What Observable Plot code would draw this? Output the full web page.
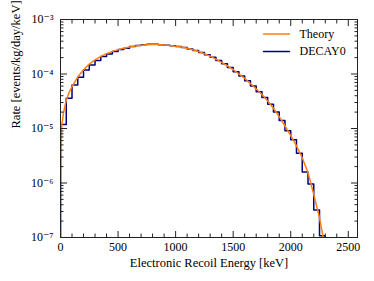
<!DOCTYPE html>
<html><head><meta charset="utf-8">
<script src="https://cdn.jsdelivr.net/npm/d3@7"></script>
<script src="https://cdn.jsdelivr.net/npm/@observablehq/plot@0.6"></script>
<style>
body{margin:0;background:#fff}
svg, svg text{font-family:"Liberation Serif","Times New Roman","DejaVu Serif",serif !important}
</style>
</head><body><div id="chart"></div>
<script>
// Theory curve (energy keV, rate events/kg/day/keV)
const theoryEnergy = [0,3,6,10,25,50,75,100,150,200,250,300,350,400,450,500,550,600,650,700,750,800,850,900,950,1000,1050,1100,1150,1200,1250,1300,1350,1400,1450,1500,1550,1600,1650,1700,1750,1800,1850,1900,1950,2000,2050,2100,2150,2200,2250,2275,2290];
const theoryRate = [1e-8,1e-6,5e-6,1.05e-5,1.9e-5,3.3e-5,4.6e-5,5.9e-5,8.8e-5,1.2e-4,1.52e-4,1.82e-4,2.1e-4,2.36e-4,2.6e-4,2.8e-4,2.98e-4,3.13e-4,3.26e-4,3.36e-4,3.43e-4,3.47e-4,3.46e-4,3.41e-4,3.34e-4,3.24e-4,3.12e-4,2.96e-4,2.78e-4,2.58e-4,2.36e-4,2.12e-4,1.88e-4,1.64e-4,1.41e-4,1.2e-4,1.0e-4,8.3e-5,6.7e-5,5.3e-5,4.2e-5,3.2e-5,2.35e-5,1.65e-5,1.12e-5,7.4e-6,4.8e-6,2.9e-6,1.55e-6,6.2e-7,2.3e-7,1.2e-7,8e-8];

// DECAY0 histogram: bin edges (keV) and rate per bin
const binEdges = [0,50,100,150,200,250,300,350,400,450,500,550,600,650,700,750,800,850,900,950,1000,1050,1100,1150,1200,1250,1300,1350,1400,1450,1500,1550,1600,1650,1700,1750,1800,1850,1900,1950,2000,2050,2100,2150,2200,2250,2300];
const decayRate = [1.18e-5,3.6e-5,6.3e-5,8.7e-5,1.19e-4,1.47e-4,1.77e-4,2.09e-4,2.34e-4,2.58e-4,2.81e-4,2.97e-4,3.19e-4,3.33e-4,3.43e-4,3.5e-4,3.52e-4,3.45e-4,3.38e-4,3.3e-4,3.18e-4,3.05e-4,2.88e-4,2.7e-4,2.48e-4,2.25e-4,2.02e-4,1.77e-4,1.54e-4,1.31e-4,1.1e-4,9.2e-5,7.5e-5,6.0e-5,4.7e-5,3.7e-5,2.8e-5,2.0e-5,1.4e-5,9.1e-6,6.2e-6,3.5e-6,1.6e-6,9.6e-7,3.2e-7,1.08e-7];

const xMajorTicks = [0,500,1000,1500,2000,2500];
const xMinorTicks = [100,200,300,400,600,700,800,900,1100,1200,1300,1400,1600,1700,1800,1900,2100,2200,2300,2400];
const yMajorTicks = [1e-7,1e-6,1e-5,1e-4,1e-3];
const yMinorMultipliers = [2,3,4,5,6,7,8,9];
const yMinorTicks = yMajorTicks.slice(0,4).flatMap(d => yMinorMultipliers.map(k => k*d));
const seriesNames = ["Theory","DECAY0"];
const seriesColors = ["#ff7f0e","#000080"];
const xLabel = "Electronic Recoil Energy [keV]";
const yLabel = "Rate [events/kg/day/keV]";

const theory = theoryEnergy.map((e,i) => ({e, r: theoryRate[i]}));
const floor = 1e-9;
const steps = [{e: binEdges[0], r: floor}]
  .concat(decayRate.map((r,i) => ({e: binEdges[i], r})))
  .concat([{e: binEdges[binEdges.length-1], r: decayRate[decayRate.length-1]},
           {e: binEdges[binEdges.length-1], r: floor}]);

const supMap = {"-":"\u207B","0":"\u2070","1":"\u00B9","2":"\u00B2","3":"\u00B3","4":"\u2074","5":"\u2075","6":"\u2076","7":"\u2077","8":"\u2078","9":"\u2079"};
const fmt = d => "10" + String(Math.round(Math.log10(d))).split("").map(c => supMap[c]).join("");

const ff = '"Liberation Serif","Times New Roman",serif';
const tickStroke = "#222";
const fs = 12;
const fsTitle = 12.5;
const lineShape = {draw(ctx, l){ ctx.moveTo(0,0); ctx.lineTo(0,-l); }};
const legendDy = [14.5, 32];

const legendMarks = seriesNames.flatMap((name, i) => [
  Plot.vector([name], {frameAnchor: "top-right", dx: -68, dy: legendDy[i], length: 26, rotate: 90, anchor: "end",
    shape: lineShape, stroke: seriesColors[i], strokeWidth: 1.5}),
  Plot.text([name], {frameAnchor: "top-right", dx: -58, dy: legendDy[i], textAnchor: "start", lineAnchor: "middle",
    fontSize: fs, fontFamily: ff, fill: "#000"})
]);

const plot = Plot.plot({
  width: 374, height: 281,
  marginLeft: 60, marginRight: 17, marginTop: 19, marginBottom: 44,
  style: {fontSize: fs + "px", fontFamily: ff, color: "#000", background: "#fff"},
  x: {domain: [0, 2580]},
  y: {type: "log", domain: [1e-7, 1e-3]},
  marks: [
    Plot.line(steps, {x: "e", y: "r", curve: "step-after", stroke: seriesColors[1], strokeWidth: 1.5, clip: true}),
    Plot.line(theory, {x: "e", y: "r", stroke: seriesColors[0], strokeWidth: 1.5, clip: true}),
    Plot.frame({stroke: tickStroke, strokeWidth: 1}),
    // tick labels
    Plot.axisX({anchor: "bottom", ticks: xMajorTicks, tickSize: 0, tickPadding: 5, tickFormat: d => String(d), label: null, fontSize: fs, fontFamily: ff}),
    Plot.axisY({anchor: "left", ticks: yMajorTicks, tickSize: 0, tickPadding: 7, tickFormat: fmt, label: null, fontSize: fs, fontFamily: ff}),
    // inward ticks, all four sides
    Plot.axisX({anchor: "bottom", ticks: xMajorTicks, tickSize: -6, text: null, label: null, stroke: tickStroke}),
    Plot.axisX({anchor: "bottom", ticks: xMinorTicks, tickSize: -3.5, text: null, label: null, stroke: tickStroke}),
    Plot.axisX({anchor: "top", ticks: xMajorTicks, tickSize: -6, text: null, label: null, stroke: tickStroke}),
    Plot.axisX({anchor: "top", ticks: xMinorTicks, tickSize: -3.5, text: null, label: null, stroke: tickStroke}),
    Plot.axisY({anchor: "left", ticks: yMajorTicks, tickSize: -7, text: null, label: null, stroke: tickStroke}),
    Plot.axisY({anchor: "left", ticks: yMinorTicks, tickSize: -3.5, text: null, label: null, stroke: tickStroke}),
    Plot.axisY({anchor: "right", ticks: yMajorTicks, tickSize: -7, text: null, label: null, stroke: tickStroke}),
    Plot.axisY({anchor: "right", ticks: yMinorTicks, tickSize: -3.5, text: null, label: null, stroke: tickStroke}),
    // axis titles
    Plot.text([xLabel], {frameAnchor: "bottom", dy: 25.5, lineAnchor: "middle", fontSize: fsTitle, fontFamily: ff, fill: "#000"}),
    Plot.text([yLabel], {frameAnchor: "left", dx: -45, rotate: -90, lineAnchor: "middle", fontSize: fsTitle, fontFamily: ff, fill: "#000"}),
    ...legendMarks
  ]
});
document.getElementById("chart").appendChild(plot);
</script>
</body></html>
